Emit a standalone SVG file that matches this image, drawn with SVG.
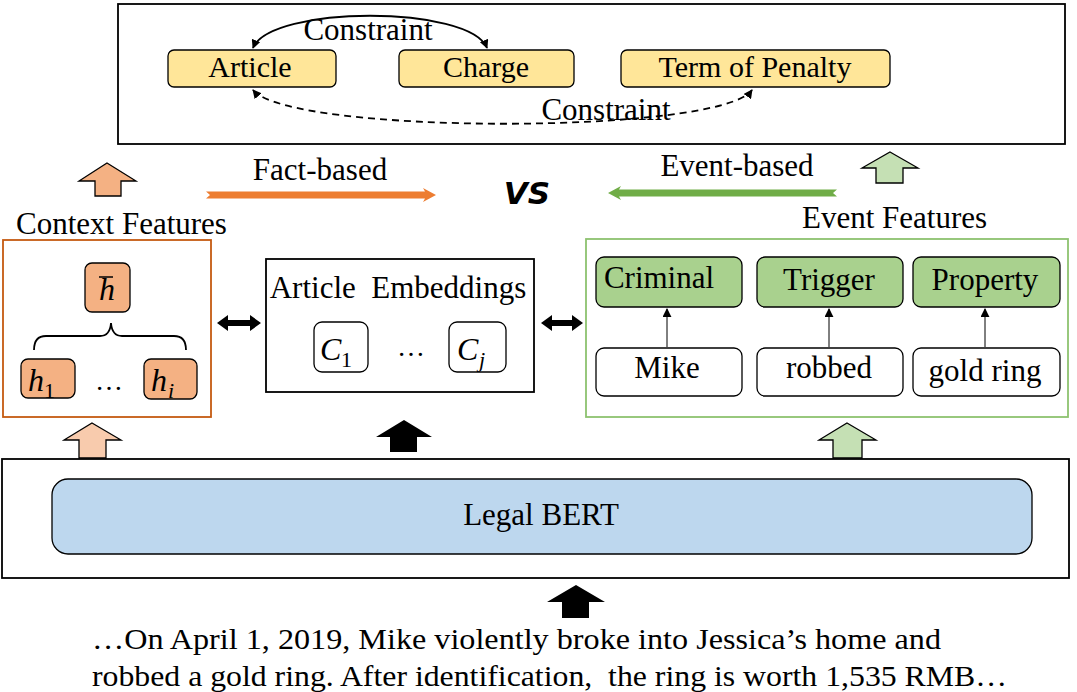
<svg xmlns="http://www.w3.org/2000/svg" width="1077" height="692" viewBox="0 0 1077 692">
<style>
text{font-family:'Liberation Serif','Times New Roman',serif;fill:#000;font-size:31px}
.m{font-style:italic;font-size:32px}
.sub{font-size:22px}
.box{stroke:#000;stroke-width:1.3}
.y{fill:#FFE699}
.o{fill:#F4B183}
.g{fill:#A9D18E}
.w{fill:#fff}
.mid{text-anchor:middle}
</style>
<defs>
<marker id="ah" viewBox="0 0 10 10" refX="9" refY="5" markerWidth="9" markerHeight="9" orient="auto-start-reverse" markerUnits="userSpaceOnUse">
<path d="M0,0 L10,5 L0,10 z" fill="#000"/>
</marker>
<marker id="ah2" viewBox="0 0 10 10" refX="9" refY="5" markerWidth="9" markerHeight="9" orient="auto" markerUnits="userSpaceOnUse">
<path d="M0,0 L10,5 L0,10 z" fill="#000"/>
</marker>
</defs>

<g id="top-box">
<rect x="118" y="4" width="947" height="140" fill="#fff" stroke="#000" stroke-width="1.8"/>
</g>
<g id="article">
<rect class="box y" x="168" y="50" width="168" height="37" rx="6"/>
<text class="mid" x="250" y="77" style="font-size:30px">Article</text>
</g>
<g id="charge">
<rect class="box y" x="399" y="50" width="175" height="37" rx="6"/>
<text class="mid" x="486" y="77" style="font-size:30px">Charge</text>
</g>
<g id="term">
<rect class="box y" x="621" y="50" width="269" height="37" rx="6"/>
<text class="mid" x="755" y="77" style="font-size:30px">Term of Penalty</text>
</g>

<g id="context-features">
<text x="16" y="234">Context Features</text>
<rect x="3" y="240" width="208" height="177" fill="#fff" stroke="#C55A11" stroke-width="1.8"/>
<g id="hbar">
<rect class="box o" x="85" y="263" width="45" height="49" rx="7"/>
<text class="m mid" x="107" y="300">h</text>
<line x1="99" y1="277" x2="113" y2="277" stroke="#000" stroke-width="1.5"/>
</g>
<path d="M34,350 Q34,336 46,336 L100,336 Q110,336 111,323 Q112,336 122,336 L174,336 Q186,336 186,350" fill="none" stroke="#000" stroke-width="1.8"/>
<g id="h1">
<rect class="box o" x="21" y="359" width="54" height="39" rx="7"/>
<text class="m" x="28" y="391">h</text>
<text class="sub" x="44" y="398">1</text>
</g>
<text class="mid" x="109" y="390" style="font-size:28px">…</text>
<g id="hi">
<rect class="box o" x="144" y="359" width="53" height="40" rx="7"/>
<text class="m" x="151" y="391">h</text>
<text class="m sub" x="168" y="398" style="font-size:22px">i</text>
</g>
</g>

<g id="article-embeddings">
<rect x="266" y="259" width="268" height="133" fill="#fff" stroke="#000" stroke-width="1.8"/>
<text class="mid" x="398" y="298" style="white-space:pre">Article  Embeddings</text>
<g id="c1">
<rect class="box w" x="314" y="322" width="54" height="50" rx="8"/>
<text class="m" x="320" y="360">C</text>
<text class="sub" x="341" y="367">1</text>
</g>
<text class="mid" x="411" y="356" style="font-size:28px">…</text>
<g id="cj">
<rect class="box w" x="449" y="322" width="57" height="50" rx="8"/>
<text class="m" x="457" y="360">C</text>
<text class="m sub" x="479" y="367" style="font-size:22px">j</text>
</g>
</g>

<g id="event-features">
<text x="802" y="228">Event Features</text>
<rect x="586" y="239" width="482" height="178" fill="#fff" stroke="#8DC26F" stroke-width="1.8"/>
<g id="criminal">
<rect class="box g" x="596" y="257" width="146" height="50" rx="8"/>
<text class="mid" x="659" y="288">Criminal</text>
</g>
<g id="trigger">
<rect class="box g" x="757" y="257" width="146" height="50" rx="8"/>
<text class="mid" x="829" y="290">Trigger</text>
</g>
<g id="property">
<rect class="box g" x="913" y="257" width="147" height="50" rx="8"/>
<text class="mid" x="985" y="290">Property</text>
</g>
<g id="mike">
<rect class="box w" x="596" y="348" width="146" height="48" rx="8"/>
<text class="mid" x="667" y="378">Mike</text>
</g>
<g id="robbed">
<rect class="box w" x="757" y="348" width="146" height="48" rx="8"/>
<text class="mid" x="829" y="378">robbed</text>
</g>
<g id="goldring">
<rect class="box w" x="913" y="348" width="147" height="48" rx="8"/>
<text class="mid" x="985" y="381">gold ring</text>
</g>
</g>

<g id="bert">
<rect x="2" y="459" width="1067" height="119" fill="#fff" stroke="#000" stroke-width="1.8"/>
<rect x="52" y="479" width="980" height="75" rx="16" fill="#BDD7EE" stroke="#000" stroke-width="1.3"/>
<text class="mid" x="541" y="525">Legal BERT</text>
</g>

<g id="input-text">
<text x="92" y="649" style="font-size:29px" textLength="849" lengthAdjust="spacingAndGlyphs">…On April 1, 2019, Mike violently broke into Jessica’s home and</text>
<text x="92" y="686" style="font-size:29px;white-space:pre" textLength="915" lengthAdjust="spacingAndGlyphs">robbed a gold ring. After identification,  the ring is worth 1,535 RMB…</text>
</g>

<g id="labels">
<text class="mid" x="320" y="180">Fact-based</text>
<text class="mid" x="737" y="176">Event-based</text>
<text x="527" y="204" style="font-family:'DejaVu Sans','Liberation Sans',sans-serif;font-size:31px;font-weight:bold;font-style:italic;text-anchor:middle">VS</text>
</g>

<g id="connectors">
<path d="M253,48 C270,5 470,5 487,48" fill="none" stroke="#000" stroke-width="1.8" marker-start="url(#ah)" marker-end="url(#ah)"/>
<text class="mid" x="368" y="40">Constraint</text>
<path d="M253,90 C290,135 720,135 752,90" fill="none" stroke="#000" stroke-width="1.8" stroke-dasharray="7,5" marker-start="url(#ah)" marker-end="url(#ah)"/>
<text class="mid" x="606" y="120">Constraint</text>

<line x1="667" y1="347" x2="667" y2="309" stroke="#000" stroke-width="1" marker-end="url(#ah2)"/>
<line x1="829" y1="347" x2="829" y2="309" stroke="#000" stroke-width="1" marker-end="url(#ah2)"/>
<line x1="985" y1="347" x2="985" y2="309" stroke="#000" stroke-width="1" marker-end="url(#ah2)"/>

<polygon points="206,191.5 425,191.5 423,188 436,195 423,202 425,198.5 206,198.5 210,195" fill="#ED7D31"/>
<polygon points="837,189.5 619,189.5 621,186 608,193 621,200 619,196.5 837,196.5 833,193" fill="#70AD47"/>

<polygon points="107,163 136,181 121,181 121,196 95,196 95,181 79,181" fill="#F4B183" stroke="#000" stroke-width="1.3"/>
<polygon points="890,152 918,168 903,168 903,183 876,183 876,168 862,168" fill="#C5E0B4" stroke="#000" stroke-width="1.3"/>
<polygon points="92,423 121,440 106,440 106,458 79,458 79,440 64,440" fill="#F8CBAD" stroke="#000" stroke-width="1.3"/>
<polygon points="404,420 432,437 417,437 417,452 390,452 390,437 376,437" fill="#000"/>
<polygon points="847,423 876,440 862,440 862,458 833,458 833,440 819,440" fill="#C5E0B4" stroke="#000" stroke-width="1.3"/>
<polygon points="576,585 605,602 589,602 589,618 562,618 562,602 547,602" fill="#000"/>

<polygon points="217,323 228,315 228,320 250,320 250,315 261,323 250,331 250,326 228,326 228,331" fill="#000"/>
<polygon points="541,323 552,315 552,320 572,320 572,315 583,323 572,331 572,326 552,326 552,331" fill="#000"/>
</g>
</svg>
